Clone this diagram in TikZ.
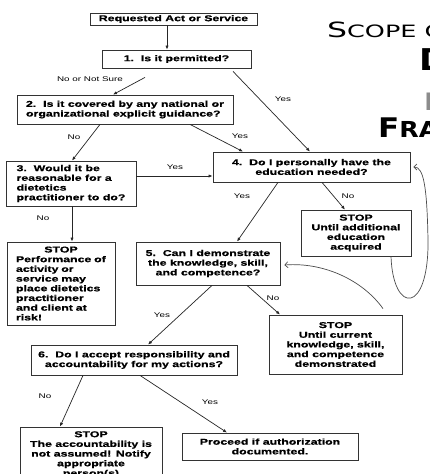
\documentclass[tikz,border=0pt]{standalone}
\usepackage{fontspec}
\setmainfont[FakeStretch=1.45, BoldFeatures={FakeBold=0.8}]{Liberation Sans}
\newfontfamily\titlefont[FakeStretch=1.5]{DejaVu Sans}
\newfontfamily\titlebold[FakeStretch=1.15]{DejaVu Sans}
\usetikzlibrary{arrows.meta,calc}

\tikzset{
	box/.style={draw=black!80, line width=0.8pt, inner sep=0pt, align=center,
		font=\fontsize{8.5}{9.7}\selectfont\bfseries},
	lbox/.style={box, align=left},
	lbl/.style={inner sep=0pt, font=\fontsize{6.8}{8}\selectfont},
	arr/.style={draw=black!85, line width=0.7pt, -{Latex[length=4pt,width=3.2pt]}},
	back/.style={draw=black!70, line width=0.7pt, -{Straight Barb[length=3pt,width=6pt]}},
	ttl/.style={anchor=base west, inner sep=0pt}
}

\begin{document}
\begin{tikzpicture}[x=1pt,y=-1pt]
		\useasboundingbox (0,0) rectangle (429,474);
		\fill[white] (0,0) rectangle (429,474);
		\clip (0,0) rectangle (429,474);

		% Title, cut by the right edge
		\node[ttl, font=\titlefont] (tscope) at (327,37) {\fontsize{21}{21}\selectfont S\fontsize{17}{17}\selectfont COPE O};
		\node[ttl, font=\titlebold\bfseries] (tdec) at (419,70) {\fontsize{30}{30}\selectfont D};
		\node[ttl, font=\titlefont, text=black!45] (tmid) at (423,110) {\fontsize{24}{24}\selectfont I};
		\node[ttl, font=\titlebold\bfseries] (tframe) at (378,137) {\fontsize{27}{27}\selectfont F\fontsize{22}{22}\selectfont RA};

		% Questions
		\node[box, minimum width=167pt, minimum height=12pt] (req) at (173.5,19) {Requested Act or Service};
		\node[box, minimum width=149pt, minimum height=18pt] (q1) at (176.5,59) {1.\ \ Is it permitted?};
		\node[lbox, minimum width=216pt, minimum height=29pt] (q2) at (125,109.5) {2.\ \ Is it covered by any national or\\organizational explicit guidance?};
		\node[lbox, minimum width=130pt, minimum height=45pt] (q3) at (71,183.5) {3.\ \ Would it be\\reasonable for a\\dietetics\\practitioner to do?};
		\node[box, minimum width=197pt, minimum height=30pt] (q4) at (311.5,167) {4.\ \ Do I personally have the\\education needed?};
		\node[box, minimum width=144pt, minimum height=43pt] (q5) at (208,263.5) {5.\ \ Can I demonstrate\\the knowledge, skill,\\and competence?};
		\node[box, minimum width=206pt, minimum height=30pt] (q6) at (134,360) {6.\ \ Do I accept responsibility and\\accountability for my actions?};

		% Stops and outcome
		\node[lbox, text width=90pt, inner xsep=9pt, minimum height=83pt] (stop3) at (61,283.5) {\makebox[\hsize]{STOP}\\Performance of\\activity or\\service may\\place dietetics\\practitioner\\and client at\\risk!};
		\node[box, minimum width=110pt, minimum height=46pt] (stop4) at (356,233) {STOP\\Until additional\\education\\acquired};
		\node[box, minimum width=133pt, minimum height=59pt] (stop5) at (335.5,344.5) {STOP\\Until current\\knowledge, skill,\\and competence\\demonstrated};
		\node[box, minimum width=142pt, minimum height=55pt] (stop6) at (91,454.5) {STOP\\The accountability is\\not assumed! Notify\\appropriate\\person(s)};
		\node[box, minimum width=176pt, minimum height=27pt] (proceed) at (270,446.5) {Proceed if authorization\\documented.};

		% Arrows
		\draw[arr] ([xshift=-6.5pt]req.south) -- ([xshift=-6.5pt]req.south |- q1.north);
		\draw[arr] ([xshift=-31.5pt,yshift=-9pt]q1.south) -- ([xshift=-12pt]q2.north);
		\draw[arr] ([xshift=56.5pt,yshift=-3pt]q1.south) -- ([xshift=-1.5pt]q4.north);
		\draw[arr] ([xshift=-25pt]q2.south) -- ([xshift=1pt]q3.north);
		\draw[arr] ([xshift=65pt]q2.south) -- ([xshift=-68.5pt]q4.north);
		\draw[arr] ([yshift=7.5pt]q3.east) -- ([yshift=7.5pt]q3.east -| q4.west);
		\draw[arr] ([xshift=1pt]q3.south) -- ([xshift=1pt]q3.south |- stop3.north);
		\draw[arr] ([xshift=10.5pt]q4.south) -- ([xshift=-11pt]stop4.north);
		\draw[arr] ([xshift=-33.5pt]q4.south) -- ([xshift=29pt]q5.north);
		\draw[arr] ([xshift=39pt]q5.south) -- ([xshift=-55.5pt]stop5.north);
		\draw[arr] ([xshift=4pt]q5.south) -- ([xshift=14pt]q6.north);
		\draw[arr] ([xshift=-51pt]q6.south) -- ([xshift=-31pt]stop6.north);
		\draw[arr] ([xshift=6pt]q6.south) -- ([xshift=-43pt]proceed.north);

		% Going back
		\draw[back] ([xshift=47.5pt,yshift=6pt]stop5.north) .. controls +(-20,-28) and +(40,-3) .. ([xshift=4pt,yshift=-1.5pt]q5.east);
		\coordinate (loopr) at (428,240);
		\draw[back] ([xshift=35pt]stop4.south) .. controls +(2,58) and +(1,75) .. (loopr) .. controls +(-1,-55) and +(10,0) .. ([xshift=3pt]q4.east);

		% Labels
		\node[lbl] (l1no) at (90,79) {No or Not Sure};
		\node[lbl] (l1yes) at (283,99) {Yes};
		\node[lbl] (l2no) at (74,137) {No};
		\node[lbl] (l2yes) at (240,136) {Yes};
		\node[lbl] (l3yes) at (175,167) {Yes};
		\node[lbl] (l3no) at (43,218) {No};
		\node[lbl] (l4no) at (348,196) {No};
		\node[lbl] (l4yes) at (242,196) {Yes};
		\node[lbl] (l5no) at (273,298) {No};
		\node[lbl] (l5yes) at (162,315) {Yes};
		\node[lbl] (l6no) at (45,396) {No};
		\node[lbl] (l6yes) at (210,402) {Yes};
	\end{tikzpicture}
\end{document}
